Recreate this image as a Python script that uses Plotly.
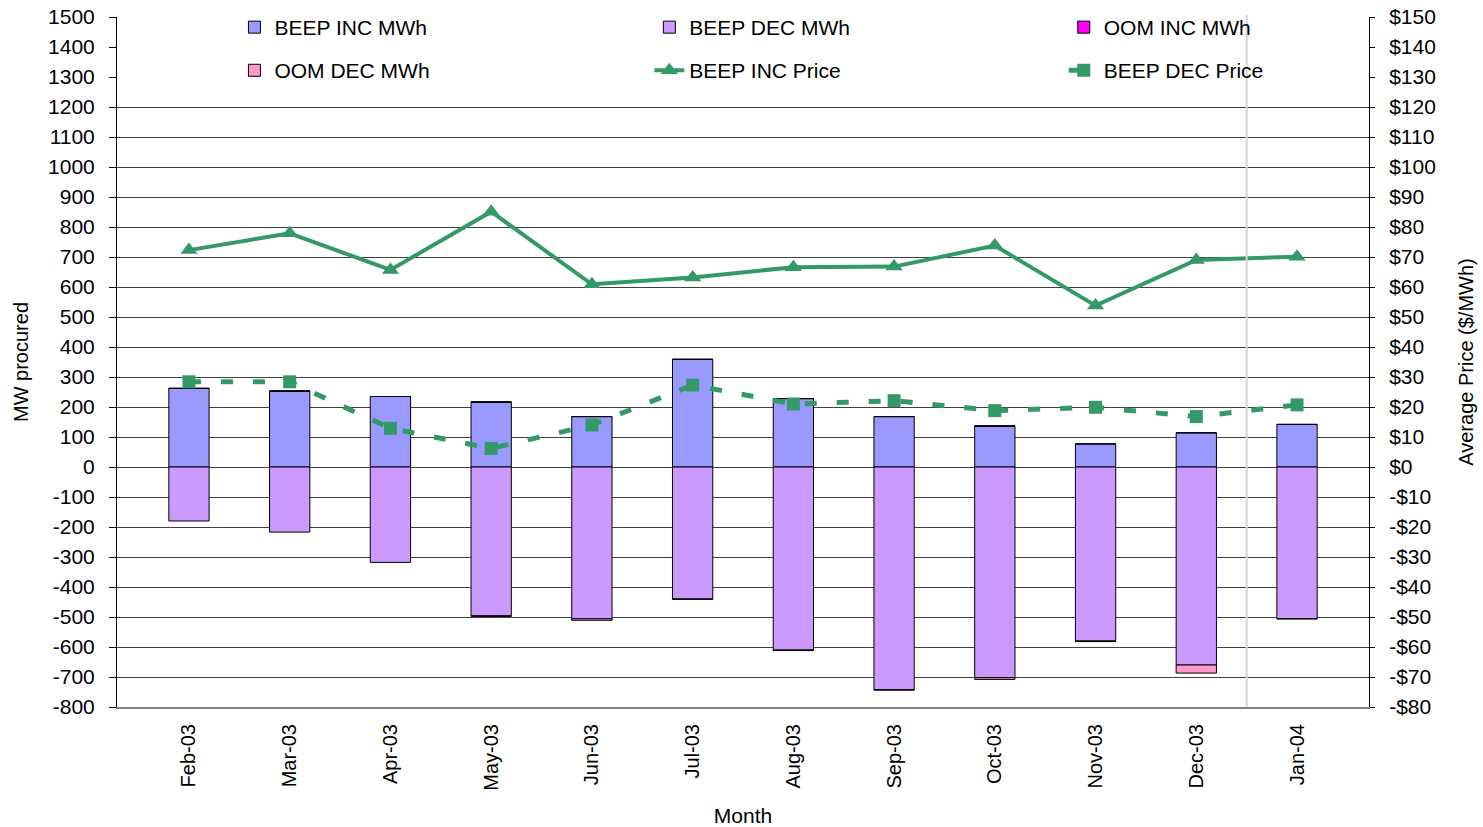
import plotly.graph_objects as go
from plotly.subplots import make_subplots

months = ["Feb-03", "Mar-03", "Apr-03", "May-03", "Jun-03", "Jul-03",
          "Aug-03", "Sep-03", "Oct-03", "Nov-03", "Dec-03", "Jan-04"]

beep_inc_mwh = [262, 253, 235, 215, 168, 359, 228, 168, 135, 77, 114, 142]
beep_dec_mwh = [-180, -217, -318, -496, -506, -440, -610, -742, -702, -580, -660, -505]
oom_inc_mwh = [0, 0, 0, 3, 0, 0, 0, 0, 3, 0, 0, 0]
oom_dec_mwh = [0, 0, 0, -2, -5, -1, -2, -2, -6, -2, -27, -2]

beep_inc_price = [72.3, 77.9, 65.7, 85.1, 60.9, 63.2, 66.6, 66.8, 73.8, 53.8, 69.0, 70.1]
beep_dec_price = [28.4, 28.4, 12.9, 6.2, 14.0, 27.3, 21.0, 22.1, 18.8, 19.9, 16.8, 20.7]

left_ticks = list(range(-800, 1501, 100))
left_labels = [str(v) for v in left_ticks]
grid_ticks = list(range(-800, 1201, 100))  # no gridlines behind the legend block
right_ticks = list(range(-80, 151, 10))
right_labels = [("-$" if v < 0 else "$") + str(abs(v)) for v in right_ticks]

font = "Liberation Sans, Arial, sans-serif"
green = "#339966"
bar_line = dict(color="#000000", width=1)

fig = make_subplots(specs=[[{"secondary_y": True}]])

# bars (primary axis), one legend box per entry so the 3x2 grid lines up
fig.add_trace(go.Bar(x=months, y=beep_inc_mwh, name="BEEP INC MWh", legend="legend",
                     marker=dict(color="#9999FF", line=bar_line)))
fig.add_trace(go.Bar(x=months, y=beep_dec_mwh, name="BEEP DEC MWh", legend="legend2",
                     marker=dict(color="#CC99FF", line=bar_line)))
fig.add_trace(go.Bar(x=months, y=oom_inc_mwh, name="OOM INC MWh", legend="legend3",
                     marker=dict(color="#FF00FF", line=bar_line)))
fig.add_trace(go.Bar(x=months, y=oom_dec_mwh, name="OOM DEC MWh", legend="legend4",
                     marker=dict(color="#FF99CC", line=bar_line)))

# prices (secondary axis)
fig.add_trace(go.Scatter(x=months, y=beep_inc_price, name="BEEP INC Price", legend="legend5",
                         mode="lines+markers",
                         line=dict(color=green, width=4),
                         marker=dict(symbol="triangle-up", size=15, color=green)),
              secondary_y=True)
fig.add_trace(go.Scatter(x=months, y=beep_dec_price, name="BEEP DEC Price", legend="legend6",
                         mode="lines+markers",
                         line=dict(color=green, width=5, dash="12px,20px"),
                         marker=dict(symbol="square", size=13, color=green)),
              secondary_y=True)

# empty trace that carries the gridline-only axis
fig.add_trace(go.Scatter(x=[], y=[], yaxis="y3", showlegend=False, hoverinfo="skip"))

leg_font = dict(family=font, size=21, color="#000000")
col_x = [0.0938, 0.4252, 0.7562]
row_y = [1.0145, 0.952]


def leg(x, y):
    return dict(x=x, y=y, xanchor="left", yanchor="top", bgcolor="rgba(0,0,0,0)",
                font=leg_font, borderwidth=0)


fig.update_layout(
    width=1483, height=827,
    barmode="relative",
    bargap=0.6,
    plot_bgcolor="white",
    paper_bgcolor="white",
    margin=dict(l=117, r=114, t=17, b=120, autoexpand=False),
    font=dict(family=font, size=21, color="#000000"),
    showlegend=True,
    legend=leg(col_x[0], row_y[0]),
    legend2=leg(col_x[1], row_y[0]),
    legend3=leg(col_x[2], row_y[0]),
    legend4=leg(col_x[0], row_y[1]),
    legend5=leg(col_x[1], row_y[1]),
    legend6=leg(col_x[2], row_y[1]),
    yaxis3=dict(overlaying="y", range=[-800, 1500], tickvals=grid_ticks,
                showgrid=True, gridcolor="#404040", gridwidth=1,
                showticklabels=False, ticks="", showline=False, zeroline=False),
)

fig.update_xaxes(
    domain=[0, 1],
    title=dict(text="Month", font=dict(size=21), standoff=19),
    automargin=False,
    tickangle=-90,
    ticks="",
    ticklabelstandoff=7,
    showline=True, linecolor="#808080", linewidth=2,
    showgrid=False,
    tickfont=dict(size=20),
)

fig.update_yaxes(
    title=dict(text="MW procured", font=dict(size=20), standoff=14),
    automargin=False,
    range=[-800, 1500],
    tickvals=left_ticks,
    ticktext=left_labels,
    ticklabeloverflow="allow",
    ticks="outside", ticklen=7, tickcolor="#000000",
    ticklabelstandoff=10,
    showline=True, linecolor="#000000", linewidth=1,
    showgrid=False,
    zeroline=False,
    tickfont=dict(size=21),
    secondary_y=False,
)

fig.update_yaxes(
    title=dict(text="Average Price ($/MWh)", font=dict(size=20), standoff=24),
    automargin=False,
    range=[-80, 150],
    tickvals=right_ticks,
    ticktext=right_labels,
    ticklabeloverflow="allow",
    ticks="outside", ticklen=5, tickcolor="#000000",
    ticklabelstandoff=10,
    showline=True, linecolor="#000000", linewidth=1,
    showgrid=False,
    zeroline=False,
    tickfont=dict(size=21),
    secondary_y=True,
)

# faint vertical line between Dec-03 and Jan-04
fig.add_shape(type="line", xref="x", yref="paper", x0=10.5, x1=10.5, y0=0, y1=1.003,
              line=dict(color="#d4d4d4", width=2), layer="above")

# drop the default 8px page margin so the figure fills the window exactly
fig.write_html("out.html", config={"displayModeBar": False},
               post_script="document.body.style.margin = '0';")
